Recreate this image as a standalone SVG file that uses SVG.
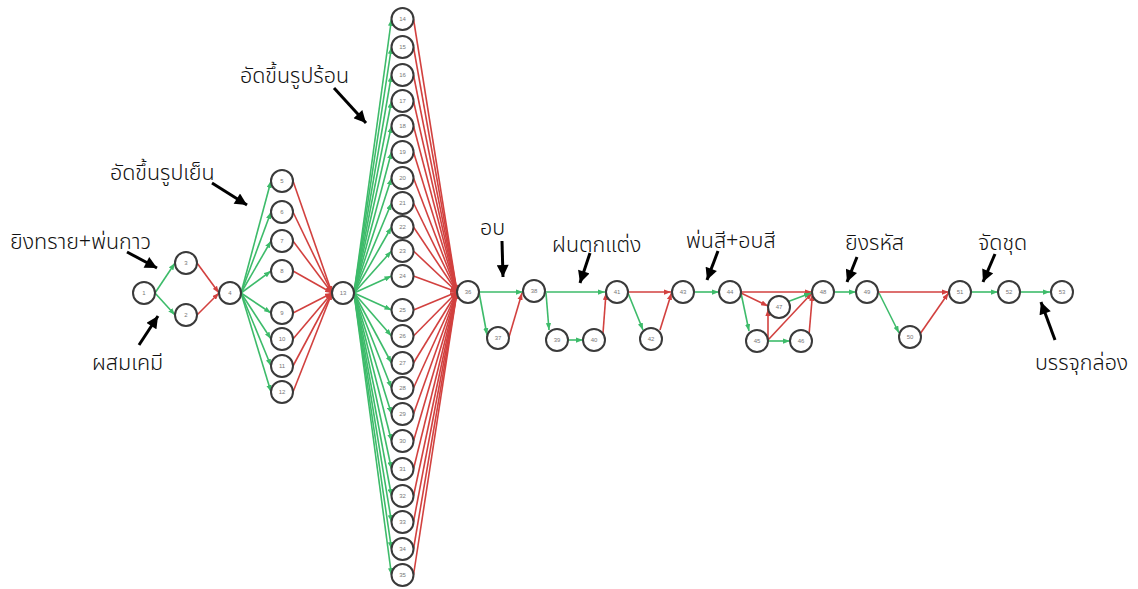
<svg xmlns="http://www.w3.org/2000/svg" width="1138" height="589" viewBox="0 0 1138 589">
  <style>
    .bg { fill: #ffffff; }
    .node circle { fill: #ffffff; stroke: #3a3a3a; stroke-width: 2; }
    .node text { font-family: "Liberation Sans", Arial, sans-serif; font-size: 6px; fill: #777777; text-anchor: middle; dominant-baseline: central; }
    .g { stroke: #3dbb6a; stroke-width: 1.6; fill: none; marker-end: url(#ag); }
    .r { stroke: #d2413f; stroke-width: 1.6; fill: none; marker-end: url(#ar); }
    .call { stroke: #000000; stroke-width: 3; fill: none; marker-end: url(#ak); }
    .label { font-family: "Noto Sans Thai", "Noto Sans", "DejaVu Sans", sans-serif; font-size: 21.5px; font-weight: 300; fill: #111111; }
  </style>
  <defs>
    <marker id="ag" viewBox="0 0 8 6" refX="8" refY="3" markerWidth="7" markerHeight="5.5" markerUnits="userSpaceOnUse" orient="auto">
      <path d="M0,0 L8,3 L0,6 z" fill="#3dbb6a"/>
    </marker>
    <marker id="ar" viewBox="0 0 8 6" refX="8" refY="3" markerWidth="7" markerHeight="5.5" markerUnits="userSpaceOnUse" orient="auto">
      <path d="M0,0 L8,3 L0,6 z" fill="#d2413f"/>
    </marker>
    <marker id="ak" viewBox="0 0 12 12" refX="12" refY="6" markerWidth="13" markerHeight="12" markerUnits="userSpaceOnUse" orient="auto">
      <path d="M0,0 L12,6 L0,12 z" fill="#000000"/>
    </marker>
  </defs>
  <rect class="bg" x="0" y="0" width="1138" height="589"/>

  <!-- process edges -->
  <g id="connectors">
    <!-- mixing / sandblast -->
    <line class="g" x1="155" y1="293" x2="175" y2="263"/>
    <line class="g" x1="155" y1="293" x2="175" y2="315"/>
    <line class="r" x1="197" y1="263" x2="219" y2="293"/>
    <line class="r" x1="197" y1="315" x2="219" y2="293"/>
    <!-- cold forming fan -->
    <line class="g" x1="241" y1="293" x2="271" y2="181"/>
    <line class="g" x1="241" y1="293" x2="271" y2="212"/>
    <line class="g" x1="241" y1="293" x2="271" y2="241"/>
    <line class="g" x1="241" y1="293" x2="271" y2="271"/>
    <line class="g" x1="241" y1="293" x2="271" y2="313"/>
    <line class="g" x1="241" y1="293" x2="271" y2="339"/>
    <line class="g" x1="241" y1="293" x2="271" y2="366"/>
    <line class="g" x1="241" y1="293" x2="271" y2="392"/>
    <line class="r" x1="293" y1="181" x2="332" y2="293"/>
    <line class="r" x1="293" y1="212" x2="332" y2="293"/>
    <line class="r" x1="293" y1="241" x2="332" y2="293"/>
    <line class="r" x1="293" y1="271" x2="332" y2="293"/>
    <line class="r" x1="293" y1="313" x2="332" y2="293"/>
    <line class="r" x1="293" y1="339" x2="332" y2="293"/>
    <line class="r" x1="293" y1="366" x2="332" y2="293"/>
    <line class="r" x1="293" y1="392" x2="332" y2="293"/>
    <!-- hot forming fan -->
    <line class="g" x1="354" y1="293" x2="391.5" y2="19"/>
    <line class="g" x1="354" y1="293" x2="391.5" y2="47"/>
    <line class="g" x1="354" y1="293" x2="391.5" y2="75"/>
    <line class="g" x1="354" y1="293" x2="391.5" y2="101"/>
    <line class="g" x1="354" y1="293" x2="391.5" y2="126"/>
    <line class="g" x1="354" y1="293" x2="391.5" y2="152"/>
    <line class="g" x1="354" y1="293" x2="391.5" y2="178"/>
    <line class="g" x1="354" y1="293" x2="391.5" y2="203"/>
    <line class="g" x1="354" y1="293" x2="391.5" y2="227"/>
    <line class="g" x1="354" y1="293" x2="391.5" y2="251"/>
    <line class="g" x1="354" y1="293" x2="391.5" y2="276"/>
    <line class="g" x1="354" y1="293" x2="391.5" y2="310"/>
    <line class="g" x1="354" y1="293" x2="391.5" y2="336"/>
    <line class="g" x1="354" y1="293" x2="391.5" y2="363"/>
    <line class="g" x1="354" y1="293" x2="391.5" y2="388"/>
    <line class="g" x1="354" y1="293" x2="391.5" y2="414"/>
    <line class="g" x1="354" y1="293" x2="391.5" y2="441"/>
    <line class="g" x1="354" y1="293" x2="391.5" y2="469"/>
    <line class="g" x1="354" y1="293" x2="391.5" y2="496"/>
    <line class="g" x1="354" y1="293" x2="391.5" y2="522"/>
    <line class="g" x1="354" y1="293" x2="391.5" y2="549"/>
    <line class="g" x1="354" y1="293" x2="391.5" y2="575"/>
    <line class="r" x1="413.5" y1="19" x2="457" y2="292"/>
    <line class="r" x1="413.5" y1="47" x2="457" y2="292"/>
    <line class="r" x1="413.5" y1="75" x2="457" y2="292"/>
    <line class="r" x1="413.5" y1="101" x2="457" y2="292"/>
    <line class="r" x1="413.5" y1="126" x2="457" y2="292"/>
    <line class="r" x1="413.5" y1="152" x2="457" y2="292"/>
    <line class="r" x1="413.5" y1="178" x2="457" y2="292"/>
    <line class="r" x1="413.5" y1="203" x2="457" y2="292"/>
    <line class="r" x1="413.5" y1="227" x2="457" y2="292"/>
    <line class="r" x1="413.5" y1="251" x2="457" y2="292"/>
    <line class="r" x1="413.5" y1="276" x2="457" y2="292"/>
    <line class="r" x1="413.5" y1="310" x2="457" y2="292"/>
    <line class="r" x1="413.5" y1="336" x2="457" y2="292"/>
    <line class="r" x1="413.5" y1="363" x2="457" y2="292"/>
    <line class="r" x1="413.5" y1="388" x2="457" y2="292"/>
    <line class="r" x1="413.5" y1="414" x2="457" y2="292"/>
    <line class="r" x1="413.5" y1="441" x2="457" y2="292"/>
    <line class="r" x1="413.5" y1="469" x2="457" y2="292"/>
    <line class="r" x1="413.5" y1="496" x2="457" y2="292"/>
    <line class="r" x1="413.5" y1="522" x2="457" y2="292"/>
    <line class="r" x1="413.5" y1="549" x2="457" y2="292"/>
    <line class="r" x1="413.5" y1="575" x2="457" y2="292"/>
    <!-- baking -->
    <line class="g" x1="479" y1="292" x2="523" y2="292"/>
    <line class="g" x1="479" y1="292" x2="487" y2="335"/>
    <line class="r" x1="509" y1="337" x2="522" y2="293"/>
    <!-- finishing -->
    <line class="g" x1="545" y1="292" x2="605" y2="292"/>
    <line class="g" x1="546" y1="293" x2="549" y2="330"/>
    <line class="g" x1="568" y1="340" x2="583" y2="340"/>
    <line class="r" x1="603" y1="333" x2="606" y2="293"/>
    <!-- painting -->
    <line class="g" x1="628" y1="293" x2="643" y2="330"/>
    <line class="r" x1="628" y1="292" x2="671" y2="292"/>
    <line class="r" x1="660" y1="330" x2="671.5" y2="293"/>
    <line class="g" x1="694" y1="292" x2="719" y2="292"/>
    <line class="r" x1="741" y1="292" x2="812" y2="292"/>
    <line class="r" x1="741" y1="293" x2="768" y2="306"/>
    <line class="g" x1="741" y1="293" x2="749" y2="331"/>
    <line class="r" x1="768" y1="339" x2="768" y2="309"/>
    <line class="r" x1="768" y1="340" x2="812" y2="293"/>
    <line class="g" x1="768" y1="341" x2="790" y2="341"/>
    <line class="r" x1="809" y1="335" x2="812.5" y2="294"/>
    <line class="g" x1="787" y1="302" x2="811" y2="293"/>
    <!-- coding / packing -->
    <line class="g" x1="834" y1="292" x2="856" y2="292"/>
    <line class="r" x1="878" y1="292" x2="949" y2="292"/>
    <line class="g" x1="879" y1="293" x2="899" y2="333"/>
    <line class="r" x1="920" y1="334" x2="948.5" y2="293"/>
    <line class="g" x1="971" y1="292" x2="998" y2="292"/>
    <line class="g" x1="1020" y1="292" x2="1050" y2="292"/>
  </g>

  <!-- activity nodes -->
  <g id="n1" class="node"><circle cx="144" cy="293" r="11"/><text x="144" y="293">1</text></g>
  <g id="n2" class="node"><circle cx="186" cy="315" r="11"/><text x="186" y="315">2</text></g>
  <g id="n3" class="node"><circle cx="186" cy="263" r="11"/><text x="186" y="263">3</text></g>
  <g id="n4" class="node"><circle cx="230" cy="293" r="11"/><text x="230" y="293">4</text></g>
  <g id="n5" class="node"><circle cx="282" cy="181" r="11"/><text x="282" y="181">5</text></g>
  <g id="n6" class="node"><circle cx="282" cy="212" r="11"/><text x="282" y="212">6</text></g>
  <g id="n7" class="node"><circle cx="282" cy="241" r="11"/><text x="282" y="241">7</text></g>
  <g id="n8" class="node"><circle cx="282" cy="271" r="11"/><text x="282" y="271">8</text></g>
  <g id="n9" class="node"><circle cx="282" cy="313" r="11"/><text x="282" y="313">9</text></g>
  <g id="n10" class="node"><circle cx="282" cy="339" r="11"/><text x="282" y="339">10</text></g>
  <g id="n11" class="node"><circle cx="282" cy="366" r="11"/><text x="282" y="366">11</text></g>
  <g id="n12" class="node"><circle cx="282" cy="392" r="11"/><text x="282" y="392">12</text></g>
  <g id="n13" class="node"><circle cx="343" cy="293" r="11"/><text x="343" y="293">13</text></g>
  <g id="n14" class="node"><circle cx="402.5" cy="19" r="11"/><text x="402.5" y="19">14</text></g>
  <g id="n15" class="node"><circle cx="402.5" cy="47" r="11"/><text x="402.5" y="47">15</text></g>
  <g id="n16" class="node"><circle cx="402.5" cy="75" r="11"/><text x="402.5" y="75">16</text></g>
  <g id="n17" class="node"><circle cx="402.5" cy="101" r="11"/><text x="402.5" y="101">17</text></g>
  <g id="n18" class="node"><circle cx="402.5" cy="126" r="11"/><text x="402.5" y="126">18</text></g>
  <g id="n19" class="node"><circle cx="402.5" cy="152" r="11"/><text x="402.5" y="152">19</text></g>
  <g id="n20" class="node"><circle cx="402.5" cy="178" r="11"/><text x="402.5" y="178">20</text></g>
  <g id="n21" class="node"><circle cx="402.5" cy="203" r="11"/><text x="402.5" y="203">21</text></g>
  <g id="n22" class="node"><circle cx="402.5" cy="227" r="11"/><text x="402.5" y="227">22</text></g>
  <g id="n23" class="node"><circle cx="402.5" cy="251" r="11"/><text x="402.5" y="251">23</text></g>
  <g id="n24" class="node"><circle cx="402.5" cy="276" r="11"/><text x="402.5" y="276">24</text></g>
  <g id="n25" class="node"><circle cx="402.5" cy="310" r="11"/><text x="402.5" y="310">25</text></g>
  <g id="n26" class="node"><circle cx="402.5" cy="336" r="11"/><text x="402.5" y="336">26</text></g>
  <g id="n27" class="node"><circle cx="402.5" cy="363" r="11"/><text x="402.5" y="363">27</text></g>
  <g id="n28" class="node"><circle cx="402.5" cy="388" r="11"/><text x="402.5" y="388">28</text></g>
  <g id="n29" class="node"><circle cx="402.5" cy="414" r="11"/><text x="402.5" y="414">29</text></g>
  <g id="n30" class="node"><circle cx="402.5" cy="441" r="11"/><text x="402.5" y="441">30</text></g>
  <g id="n31" class="node"><circle cx="402.5" cy="469" r="11"/><text x="402.5" y="469">31</text></g>
  <g id="n32" class="node"><circle cx="402.5" cy="496" r="11"/><text x="402.5" y="496">32</text></g>
  <g id="n33" class="node"><circle cx="402.5" cy="522" r="11"/><text x="402.5" y="522">33</text></g>
  <g id="n34" class="node"><circle cx="402.5" cy="549" r="11"/><text x="402.5" y="549">34</text></g>
  <g id="n35" class="node"><circle cx="402.5" cy="575" r="11"/><text x="402.5" y="575">35</text></g>
  <g id="n36" class="node"><circle cx="468" cy="292" r="11"/><text x="468" y="292">36</text></g>
  <g id="n37" class="node"><circle cx="498" cy="338" r="11"/><text x="498" y="338">37</text></g>
  <g id="n38" class="node"><circle cx="534" cy="291" r="11"/><text x="534" y="291">38</text></g>
  <g id="n39" class="node"><circle cx="557" cy="340" r="11"/><text x="557" y="340">39</text></g>
  <g id="n40" class="node"><circle cx="594" cy="340" r="11"/><text x="594" y="340">40</text></g>
  <g id="n41" class="node"><circle cx="617" cy="292" r="11"/><text x="617" y="292">41</text></g>
  <g id="n42" class="node"><circle cx="651" cy="339" r="11"/><text x="651" y="339">42</text></g>
  <g id="n43" class="node"><circle cx="683" cy="292" r="11"/><text x="683" y="292">43</text></g>
  <g id="n44" class="node"><circle cx="730" cy="292" r="11"/><text x="730" y="292">44</text></g>
  <g id="n45" class="node"><circle cx="757" cy="341" r="11"/><text x="757" y="341">45</text></g>
  <g id="n46" class="node"><circle cx="801" cy="341" r="11"/><text x="801" y="341">46</text></g>
  <g id="n47" class="node"><circle cx="779" cy="307" r="11"/><text x="779" y="307">47</text></g>
  <g id="n48" class="node"><circle cx="823" cy="292" r="11"/><text x="823" y="292">48</text></g>
  <g id="n49" class="node"><circle cx="867" cy="292" r="11"/><text x="867" y="292">49</text></g>
  <g id="n50" class="node"><circle cx="910" cy="337" r="11"/><text x="910" y="337">50</text></g>
  <g id="n51" class="node"><circle cx="960" cy="292" r="11"/><text x="960" y="292">51</text></g>
  <g id="n52" class="node"><circle cx="1009" cy="292" r="11"/><text x="1009" y="292">52</text></g>
  <g id="n53" class="node"><circle cx="1062" cy="292" r="11"/><text x="1062" y="292">53</text></g>

  <!-- stage callouts -->
  <g id="callouts">
    <line class="call" x1="127" y1="252" x2="157" y2="268"/>
    <line class="call" x1="139" y1="345" x2="158" y2="316"/>
    <line class="call" x1="212" y1="183" x2="247" y2="205"/>
    <line class="call" x1="334" y1="88" x2="366" y2="123"/>
    <line class="call" x1="502" y1="241" x2="503" y2="277"/>
    <line class="call" x1="590" y1="253" x2="580" y2="283"/>
    <line class="call" x1="718" y1="251" x2="707" y2="280"/>
    <line class="call" x1="857" y1="257" x2="847" y2="282"/>
    <line class="call" x1="995" y1="254" x2="983" y2="282"/>
    <line class="call" x1="1055" y1="340" x2="1041" y2="302"/>
    <text class="label" x="10" y="249">ยิงทราย+พ่นกาว</text>
    <text class="label" x="92" y="370">ผสมเคมี</text>
    <text class="label" x="110" y="180">อัดขึ้นรูปเย็น</text>
    <text class="label" x="240" y="83">อัดขึ้นรูปร้อน</text>
    <text class="label" x="480" y="235">อบ</text>
    <text class="label" x="552" y="252">ฝนตกแต่ง</text>
    <text class="label" x="686" y="248">พ่นสี+อบสี</text>
    <text class="label" x="845" y="250">ยิงรหัส</text>
    <text class="label" x="978" y="250">จัดชุด</text>
    <text class="label" x="1035" y="370">บรรจุกล่อง</text>
  </g>
</svg>
